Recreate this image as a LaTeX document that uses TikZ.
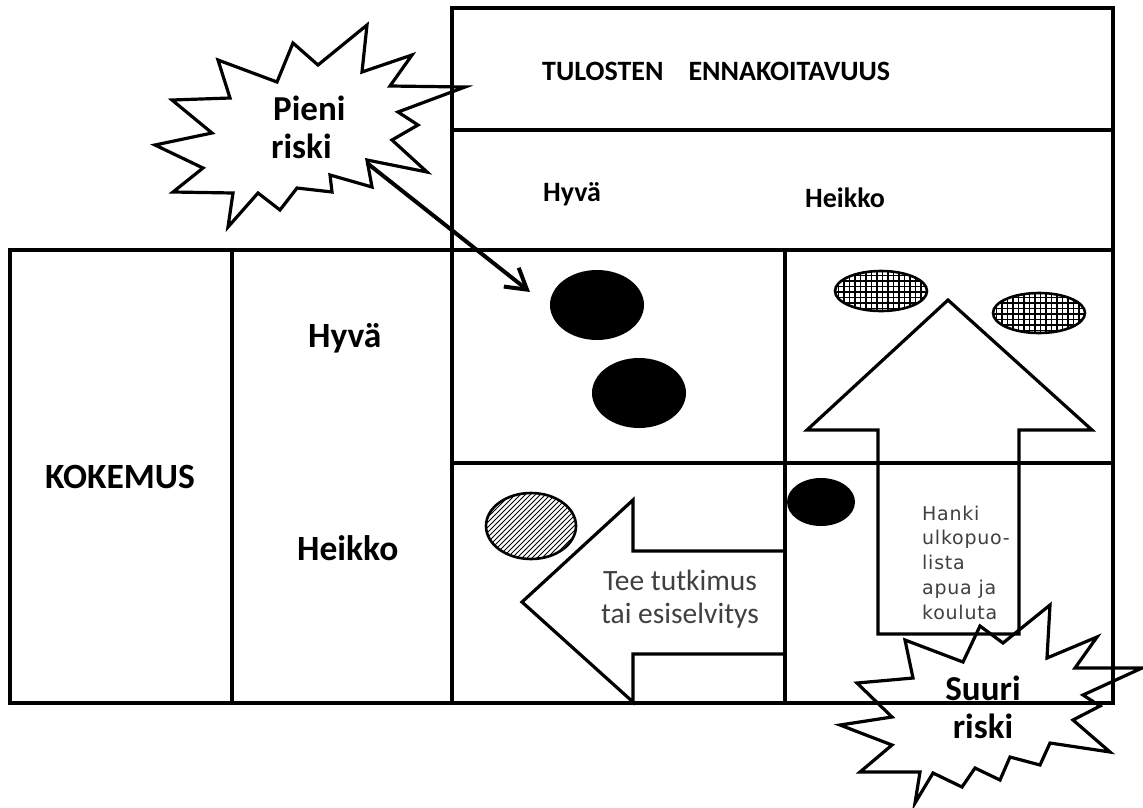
\documentclass[tikz,border=0pt]{standalone}
\usepackage{fontspec}
\setmainfont{Carlito}
\newfontfamily\hankifont[LetterSpace=4]{DejaVu Sans}
\usetikzlibrary{arrows.meta}

\begin{document}
\begin{tikzpicture}[x=1pt,y=-1pt,
  frame/.style={draw=black,line width=3.2pt},
  outline/.style={draw=black,line width=3.2pt,line join=miter},
  hlabel/.style={font=\bfseries\fontsize{28}{34}\selectfont,inner sep=0pt,anchor=base west},
  vlabel/.style={font=\bfseries\fontsize{35.5}{40}\selectfont,inner sep=0pt,anchor=base west},
  burst/.style={font=\bfseries\fontsize{35}{40}\selectfont,inner sep=0pt},
  advice/.style={font=\fontsize{29.5}{34}\selectfont,text=black!75,inner sep=0pt,anchor=base},
  helptext/.style={font=\hankifont\fontsize{19}{24}\selectfont,text=black!75,inner sep=0pt,anchor=base west},
  dotfill/.style={fill=black},
  hatchline/.style={line width=1.1pt},
  pointer/.style={draw=black,line width=4pt,-{Straight Barb[length=20pt,width=24pt,line width=4pt]}}]

\useasboundingbox (0,0) rectangle (1143,807);
\fill[white] (0,0) rectangle (1143,807);

% header block: predictability of results
\draw[frame] (452,8) rectangle (1113,250);
\draw[frame] (452,130) -- (1113,130);

% main table: experience x predictability
\draw[frame] (10,250) rectangle (1113,703);
\draw[frame] (232,250) -- (232,703);
\draw[frame] (452,250) -- (452,703);
\draw[frame] (785,250) -- (785,703);
\draw[frame] (452,463) -- (1113,463);

% header texts
\node[hlabel] (tulos) at (542,80) {TULOSTEN\hspace{25pt}ENNAKOITAVUUS};
\node[hlabel] (thyva) at (543,201) {Hyvä};
\node[hlabel] (theikko) at (805,207) {Heikko};

% row texts
\node[vlabel] (kokemus) at (45,488) {KOKEMUS};
\node[vlabel] (lhyva) at (308,347) {Hyvä};
\node[vlabel] (lheikko) at (297,560) {Heikko};

% good / good: two solid projects
\fill[dotfill] (597,305) ellipse [x radius=47, y radius=35];
\fill[dotfill] (639,393) ellipse [x radius=47, y radius=35];

% good predictability, weak experience: small solid project
\fill[dotfill] (821,502) ellipse [x radius=34, y radius=24];

% cross-hatched projects
\begin{scope}
  \clip (881,291) ellipse [x radius=46, y radius=20];
  \foreach \u in {0,...,18} \draw[hatchline] (833+5.5*\u,268) -- ++(0,48);
  \foreach \v in {0,...,8} \draw[hatchline] (832,270+5.5*\v) -- ++(100,0);
\end{scope}
\draw[line width=2.6pt] (881,291) ellipse [x radius=46, y radius=20];
\begin{scope}
  \clip (1039,313) ellipse [x radius=46, y radius=20];
  \foreach \u in {0,...,18} \draw[hatchline] (991+5.5*\u,290) -- ++(0,48);
  \foreach \v in {0,...,8} \draw[hatchline] (990,292+5.5*\v) -- ++(100,0);
\end{scope}
\draw[line width=2.6pt] (1039,313) ellipse [x radius=46, y radius=20];

% diagonally hatched project
\begin{scope}
  \clip (531,526) ellipse [x radius=45, y radius=33];
  \foreach \s in {400,405,...,585} \draw[line width=1pt] (\s,565) -- ++(80,-80);
\end{scope}
\draw[line width=2.6pt] (531,526) ellipse [x radius=45, y radius=33];

% block arrow pointing left
\draw[outline] (785,551) -- (633,551) -- (633,500) -- (522,602) -- (633,702) -- (633,654) -- (785,654);
\node[advice] (tee1) at (680,590) {Tee tutkimus};
\node[advice] (tee2) at (680,623) {tai esiselvitys};

% block arrow pointing up
\draw[outline] (878,634) -- (878,430) -- (807,430) -- (948,300) -- (1092,430) -- (1019,430) -- (1019,634) -- cycle;
\node[helptext] (h1) at (922,520) {Hanki};
\node[helptext] (h2) at (922,544) {ulkopuo-};
\node[helptext] (h3) at (922,569) {lista};
\node[helptext] (h4) at (922,594) {apua ja};
\node[helptext] (h5) at (922,619) {kouluta};

% small risk burst
\draw[outline] (155,145) -- (212,133) -- (172,100) -- (230,98) -- (218,60) -- (277,82)
  -- (293,43) -- (318,65) -- (367,25) -- (362,72) -- (412,55) -- (390,86) -- (465,87)
  -- (398,112) -- (418,125) -- (392,140) -- (427,172) -- (367,160) -- (372,187)
  -- (330,175) -- (332,192) -- (297,188) -- (280,210) -- (258,193) -- (228,227)
  -- (233,193) -- (173,192) -- (203,168) -- cycle;
\node[burst,anchor=base west] (pieni) at (273,120) {Pieni};
\node[burst,anchor=base west] (priski) at (271,158) {riski};
\coordinate (pienitail) at (367,163);
\coordinate (pienihead) at (530,292);
\draw[pointer] (pienitail) -- (pienihead);

% large risk burst
\draw[outline] (905,640) -- (963,662) -- (980,626) -- (1003,643) -- (1050,605)
  -- (1047,658) -- (1097,637) -- (1075,668) -- (1142,668) -- (1083,695) -- (1100,706)
  -- (1073,720) -- (1110,752) -- (1050,743) -- (1040,765) -- (1010,757) -- (1000,780)
  -- (975,768) -- (962,787) -- (933,773) -- (915,803) -- (920,772) -- (860,772)
  -- (892,745) -- (840,725) -- (892,717) -- (857,683) -- (913,678) -- cycle;
\node[burst,anchor=base] (suuri) at (983,700) {Suuri};
\node[burst,anchor=base] (sriski) at (983,738) {riski};

\end{tikzpicture}
\end{document}
